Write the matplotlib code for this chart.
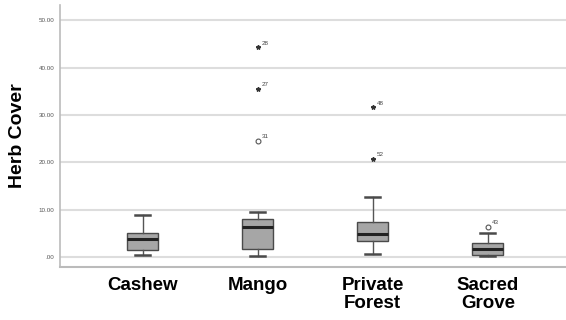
import matplotlib.pyplot as plt
import numpy as np

# herb cover per land use type
groups = ["Cashew", "Mango", "Private\nForest", "Sacred\nGrove"]
whis_lo = [0.4, 0.2, 0.6, 0.2]
q1 = [1.5, 1.7, 3.4, 0.5]
med = [3.8, 6.3, 4.8, 1.6]
q3 = [5.1, 8.0, 7.3, 2.9]
whis_hi = [8.9, 9.4, 12.6, 5.0]

# outliers: group index, value, case id, extreme (star) or not (circle)
out_grp = [1, 1, 1, 2, 2, 3]
out_val = [44.3, 35.5, 24.6, 31.6, 20.7, 6.4]
out_id = ["28", "27", "31", "48", "52", "43"]
out_extreme = [True, True, False, True, True, False]

yticks = [0, 10, 20, 30, 40, 50]
ytick_labels = [".00", "10.00", "20.00", "30.00", "40.00", "50.00"]

plt.rcParams['font.family'] = ['Liberation Sans', 'DejaVu Sans']

fig = plt.figure(figsize=(5.66, 3.2), dpi=100)
ax = fig.add_axes([0.106, 0.166, 0.894, 0.819])

stats = []
for i in range(len(groups)):
    stats.append(dict(med=med[i], q1=q1[i], q3=q3[i],
                      whislo=whis_lo[i], whishi=whis_hi[i], fliers=[]))

pos = np.arange(len(groups))
ax.bxp(stats, positions=pos, widths=0.27, patch_artist=True,
       showfliers=False,
       boxprops=dict(facecolor='#a6a6a6', edgecolor='#4a4a4a', linewidth=1.0),
       medianprops=dict(color='#222222', linewidth=2.2),
       whiskerprops=dict(color='#555555', linewidth=1.0),
       capprops=dict(color='#4a4a4a', linewidth=1.8),
       capwidths=0.13)

for g, v, lab, ext in zip(out_grp, out_val, out_id, out_extreme):
    if ext:
        ax.plot(pos[g], v, marker='*', ms=3.2, color='#333333', mec='#333333')
    else:
        ax.plot(pos[g], v, marker='o', ms=3.5, mfc='white', mec='#555555', mew=0.8)
    ax.annotate(lab, (pos[g], v), xytext=(3, 2), textcoords='offset points',
                fontsize=4.5, color='#444444')

ax.set_xlim(-0.72, 3.68)
ax.set_ylim(-2.1, 53.3)
ax.set_yticks(yticks)
ax.set_yticklabels(ytick_labels, fontsize=4.5, color='#555555')
ax.set_xticks(pos)
ax.set_xticklabels(groups, fontsize=13.5, fontweight='bold', linespacing=1.1)
ax.tick_params(axis='y', length=0, pad=4)
ax.tick_params(axis='x', length=0, pad=7)
ax.yaxis.grid(True, color='#dddddd', linewidth=1.5)
ax.set_axisbelow(True)
for s in ['top', 'right']:
    ax.spines[s].set_visible(False)
ax.spines['left'].set_color('#bbbbbb')
ax.spines['bottom'].set_color('#bbbbbb')
ax.spines['left'].set_linewidth(1.2)
ax.spines['bottom'].set_linewidth(1.5)
ax.set_ylabel("Herb Cover", fontsize=14, fontweight='bold', labelpad=9)

fig.savefig("out.png", dpi=100)
